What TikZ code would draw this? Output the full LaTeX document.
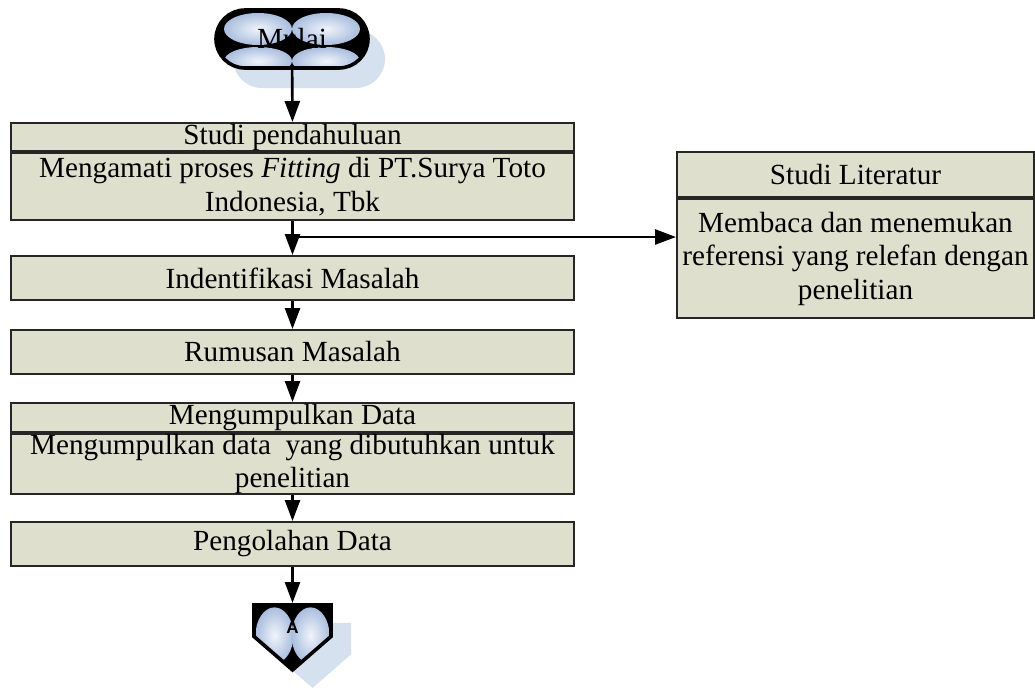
\documentclass[tikz,border=0pt]{standalone}
\usepackage{fontspec}
\setmainfont{Liberation Serif}
\newfontfamily\arialfont{Liberation Sans}
\usetikzlibrary{arrows.meta,shapes.misc,shapes.symbols,shadows}
\definecolor{boxfill}{RGB}{222,224,205}
\definecolor{shadowblue}{RGB}{214,225,240}
\definecolor{bubble}{RGB}{170,190,222}
\definecolor{bubblelight}{RGB}{240,244,251}
\newcommand\bubble[4]{\shade[inner color=bubblelight,outer color=bubble]
  ([xshift=#1,yshift=#2]path picture bounding box.center) ellipse [x radius=#3,y radius=#4];}

\begin{document}
\begin{tikzpicture}[x=0.5pt,y=-0.5pt, >={Triangle[length=10.5pt,width=7.5pt]},
    every node/.style={font=\fontsize{14.6}{16.75}\selectfont},
    proc/.style={draw=black!85, line width=1pt, fill=boxfill,
      minimum width=281.5pt, inner sep=0pt, align=center},
    term/.style={rounded rectangle, draw=black, line width=1.8pt,
      minimum width=76pt, minimum height=29pt, inner sep=0pt,
      drop shadow={shadow xshift=8.5pt, shadow yshift=-10pt, fill=shadowblue, opacity=1},
      path picture={\fill[black] (path picture bounding box.south west)
          rectangle (path picture bounding box.north east);
        \bubble{-17pt}{5pt}{17pt}{8pt}\bubble{17pt}{5pt}{17pt}{8pt}
        \bubble{-17pt}{-11pt}{17pt}{7pt}\bubble{17pt}{-11pt}{17pt}{7pt}}},
    offpage/.style={signal, signal to=south, signal pointer angle=98,
      draw=black, line width=1.8pt, minimum width=38.5pt, minimum height=18.5pt,
      inner sep=0pt, font=\arialfont\bfseries\fontsize{8.5}{9}\selectfont,
      drop shadow={shadow xshift=10pt, shadow yshift=-9pt, fill=shadowblue, opacity=1},
      path picture={\fill[black] (path picture bounding box.south west)
          rectangle (path picture bounding box.north east);
        \bubble{-9pt}{1pt}{9.5pt}{14pt}\bubble{9pt}{1pt}{9.5pt}{14pt}
        \bubble{-9pt}{-24pt}{8.5pt}{8pt}\bubble{9pt}{-24pt}{8.5pt}{8pt}}},
    line/.style={draw=black, line width=1.3pt}]
  \useasboundingbox (0,0) rectangle (1035,691);

  \node[term] (mulai) at (292,39) {Mulai};
  \node[proc, minimum height=14pt] (sphead) at (292.5,137) {Studi pendahuluan};
  \node[proc, minimum height=33.5pt, anchor=north] (spbody) at (sphead.south)
    {Mengamati proses \textit{Fitting} di PT.Surya Toto\\Indonesia, Tbk};
  \node[proc, minimum height=22pt] (ident) at (292.5,278) {Indentifikasi Masalah};
  \node[proc, minimum height=22pt] (rumus) at (292.5,352) {Rumusan Masalah};
  \node[proc, minimum height=14.5pt] (mkhead) at (292.5,417.5) {Mengumpulkan Data};
  \node[proc, minimum height=30pt, anchor=north] (mkbody) at (mkhead.south)
    {Mengumpulkan data\ \ yang dibutuhkan untuk\\penelitian};
  \node[proc, minimum height=22pt] (olah) at (292.5,544) {Pengolahan Data};
  \node[offpage, anchor=north] (A) at (292.5,603) {\raisebox{-6.5pt}[0pt][0pt]{A}};

  \node[proc, minimum width=178.5pt, minimum height=22.5pt] (slhead) at (855.5,174.5)
    {\raisebox{-3.5pt}{Studi Literatur}};
  \node[proc, minimum width=178.5pt, minimum height=59.5pt, anchor=north] (slbody) at (slhead.south)
    {Membaca dan menemukan\\referensi yang relefan dengan\\penelitian};

  % alur utama
  \draw[line,->] (mulai) -- (sphead);
  \draw[line,->] (spbody) -- (ident);
  \draw[line,->] (ident) -- (rumus);
  \draw[line,->] (rumus) -- (mkhead);
  \draw[line,->] (mkbody) -- (olah);
  \draw[line,->] (olah) -- (A);
  % cabang ke studi literatur
  \coordinate (branch) at (292.5,237);
  \draw[line,->] (branch) -- (branch -| slbody.west);
\end{tikzpicture}
\end{document}
